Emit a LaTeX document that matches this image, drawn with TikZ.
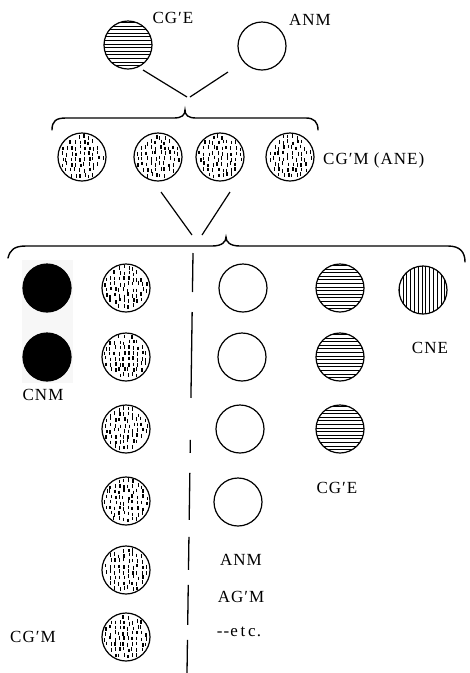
\documentclass[tikz,border=0pt]{standalone}
\usepackage{fontspec}
\setmainfont{Liberation Serif}
\usetikzlibrary{calc}

\begin{document}
\begin{tikzpicture}[x=1pt, y=-1pt,
    cell/.style={circle, draw, line width=1.2pt, minimum size=48pt, inner sep=0pt},
    plain cell/.style={cell},
    black cell/.style={cell, fill=black},
    hatch cell/.style={cell, path picture={
        \foreach \j in {-24,-20.4,...,24}
            \draw[line width=0.45pt] ([yshift=\j pt]path picture bounding box.west) -- ([yshift=\j pt]path picture bounding box.east);}},
    vhatch cell/.style={cell, path picture={
        \foreach \i in {-24,-20.2,...,24}
            \draw[line width=0.45pt] ([xshift=\i pt]path picture bounding box.north) -- ([xshift=\i pt]path picture bounding box.south);}},
    dot cell/.style={cell, path picture={
        \foreach \i in {-20,-15.5,...,21} \foreach \j in {-22,-16.5,...,20} {
            \pgfmathsetmacro\dx{\i+1.2*rand}
            \pgfmathsetmacro\dy{\j+1.5*rand}
            \pgfmathtruncatemacro\ok{(\dx*\dx+(\dy+1.8)*(\dy+1.8))<470}
            \ifnum\ok=1
                \draw[line width=1.3pt] ([shift={(\dx,\dy)}]path picture bounding box.center) -- ++(0,3.6);
            \fi}}},
    lbl/.style={font=\fontsize{17}{19}\selectfont\addfontfeature{LetterSpace=6}, inner sep=1pt},
    link/.style={line width=1.2pt},
    brace/.style={line width=1.4pt, line cap=round}]
    \useasboundingbox (0,0) rectangle (470,673);

    % Parents
    \node[hatch cell] (pa) at (128,45) {};
    \node[plain cell] (pb) at (262,46) {};
    \node[lbl] (pa-lbl) at (173,18) {CG′E};
    \node[lbl] (pb-lbl) at (310,20) {ANM};

    \coordinate (pa-end) at (143,70);
    \coordinate (pa-tip) at (187,97);
    \coordinate (pb-end) at (228,72);
    \coordinate (pb-tip) at (190,97);
    \draw[link] (pa-end) -- (pa-tip);
    \draw[link] (pb-end) -- (pb-tip);

    % First brace
    \draw[brace] (52,130) .. controls (52,121) and (56,118) .. (66,118) -- (174,118)
        .. controls (182,118) and (185,115) .. (185,110)
        .. controls (185,115) and (188,118) .. (196,118) -- (306,118)
        .. controls (314,118) and (318,122) .. (318,130);

    % First generation
    \node[dot cell] (fa) at (82,157) {};
    \node[dot cell] (fb) at (158,157) {};
    \node[dot cell] (fc) at (220,157) {};
    \node[dot cell] (fd) at (290,157) {};
    \node[lbl, anchor=west] (f-lbl) at (322,160) {CG′M (ANE)};

    \coordinate (fb-end) at (161,192);
    \coordinate (fb-tip) at (192,235);
    \coordinate (fc-end) at (230,192);
    \coordinate (fc-tip) at (202,235);
    \draw[link] (fb-end) -- (fb-tip);
    \draw[link] (fc-end) -- (fc-tip);

    % Second brace
    \draw[brace] (8,258) .. controls (10,250) and (14,246) .. (26,246) -- (212,246)
        .. controls (222,246) and (226,242) .. (226,237)
        .. controls (226,242) and (230,246) .. (240,246) -- (448,246)
        .. controls (460,246) and (465,252) .. (465,262);

    % Second generation
    \fill[black!3] (22,260) rectangle (73,383);
    \node[black cell] (sa1) at (47,288) {};
    \node[black cell] (sa2) at (47,357) {};
    \node[lbl] (sa-lbl) at (43,395) {CNM};

    \foreach \y [count=\k] in {288,357,429,501,570,637}
        \node[dot cell] (sb\k) at (126,\y) {};
    \node[lbl] (sb-lbl) at (33,637) {CG′M};

    \foreach \x/\y [count=\k] in {243/288,242/357,240/429,238/502}
        \node[plain cell] (sc\k) at (\x,\y) {};
    \node[lbl] (sc-lbl1) at (241,560) {ANM};
    \node[lbl] (sc-lbl2) at (241,597) {AG′M};
    \node[lbl] (sc-lbl3) at (239,632) {-{}-e\,t\,c.};

    \foreach \y [count=\k] in {288,357,429}
        \node[hatch cell] (sd\k) at (340,\y) {};
    \node[lbl] (sd-lbl) at (337,488) {CG′E};

    \node[vhatch cell] (se) at (423,290) {};
    \node[lbl] (se-lbl) at (430,348) {CNE};

    % Divider
    \coordinate (div-top) at (193,253);
    \coordinate (div-bot) at (187,673);
    \draw[line width=1.3pt, dash pattern=on 39pt off 20pt on 86pt off 42pt on 13pt off 20pt on 47pt off 17pt on 33pt off 15pt on 40pt off 15pt on 40pt]
        (div-top) -- (div-bot);
\end{tikzpicture}
\end{document}
